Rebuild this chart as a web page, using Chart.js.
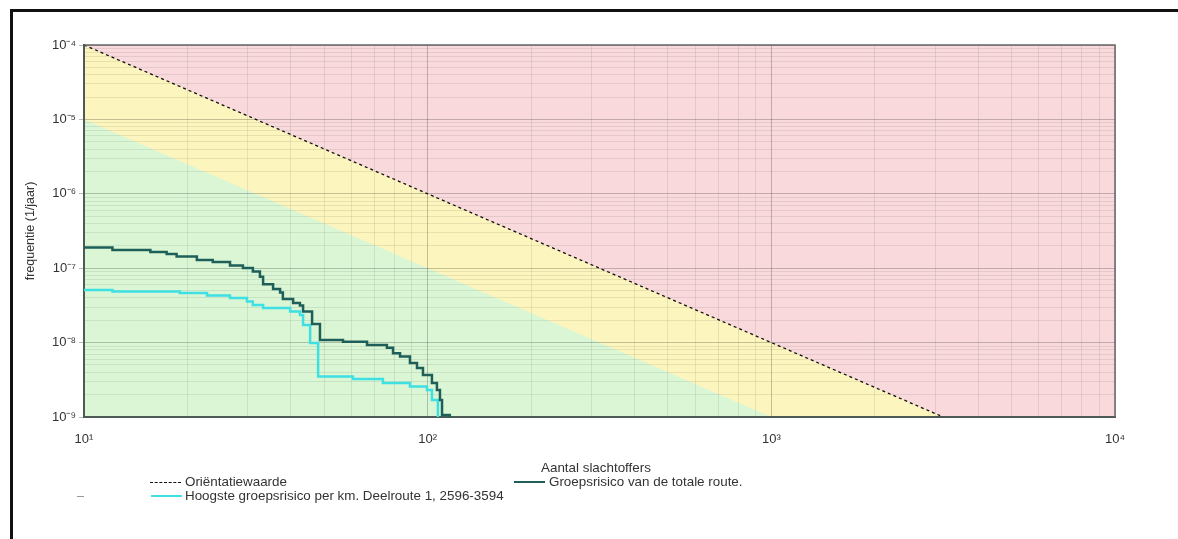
<!DOCTYPE html>
<html lang="nl">
<head>
<meta charset="utf-8">
<title>Groepsrisico</title>
<script src="https://cdn.jsdelivr.net/npm/chart.js@4.4.1/dist/chart.umd.min.js"></script>
<style>
    body { margin: 0; background: #fff; font-family: 'Liberation Sans', Arial, sans-serif; }
    #page { position: relative; width: 1178px; height: 539px; overflow: hidden; }
    #chartBox { position: absolute; left: 0; top: 0; width: 1178px; height: 539px; }
    .frame { position: absolute; background: #111; }
    .lbl { position: absolute; font-size: 13.4px; color: #333; line-height: 16px; white-space: nowrap; }
    .swatch { position: absolute; width: 31px; height: 0; }
</style>
</head>
<body>
<div id="page">
    <div id="chartBox"><canvas id="frChart"></canvas></div>
    <div class="frame" style="left:10px;top:9px;width:3px;height:530px"></div>
    <div class="frame" style="left:10px;top:9px;width:1168px;height:3px"></div>

    <div class="lbl" style="left:541px;top:460px">Aantal slachtoffers</div>

    <div class="swatch" style="left:150px;top:482px;border-top:1px dashed #111"></div>
    <div class="lbl" style="left:185px;top:474px">Oriëntatiewaarde</div>

    <div class="swatch" style="left:514px;top:481px;border-top:2.5px solid #1f5f5a"></div>
    <div class="lbl" style="left:549px;top:474px">Groepsrisico van de totale route.</div>

    <div class="swatch" style="left:77px;top:496px;width:7px;border-top:1px solid #999"></div>
    <div class="swatch" style="left:151px;top:495px;border-top:2.5px solid #3ee0e4"></div>
    <div class="lbl" style="left:185px;top:488px">Hoogste groepsrisico per km. Deelroute 1, 2596-3594</div>
</div>

<script>
// axes
const xDecades = [10, 100, 1000, 10000];
const xTickLabels = ['10¹', '10²', '10³', '10⁴'];
const yDecades = [1e-9, 1e-8, 1e-7, 1e-6, 1e-5, 1e-4];
const yTickLabels = ['10⁻⁹', '10⁻⁸', '10⁻⁷', '10⁻⁶', '10⁻⁵', '10⁻⁴'];
const minorSteps = [2, 3, 4, 5, 6, 7, 8, 9];

// Oriëntatiewaarde
const normN = [10, 100, 1000, 3162];
const normF = [1e-4, 1e-6, 1e-8, 1e-9];
// zone boundaries (red / yellow / green)
const upperN = [10, 3162, 10000];
const upperF = [1e-4, 1e-9, 1e-9];
const lowerN = [10, 100, 1000, 10000];
const lowerF = [1e-5, 1e-7, 1e-9, 1e-9];
const topN = [10, 10000];
const topF = [1e-4, 1e-4];

// Groepsrisico van de totale route
const totalN = [10, 12.1, 15.6, 17.4, 18.6, 21.3, 23.7, 26.6, 29.0, 31.0, 32.5, 33.2, 35.5, 37.2, 37.9,
    40.6, 42.5, 43.4, 46.1, 48.6, 56.7, 66.6, 76.1, 79.3, 83.1, 88.8, 93.1, 96.9, 102.9, 106.4,
    108.6, 110.1, 114.6, 116];
const totalF = [1.90e-7, 1.76e-7, 1.65e-7, 1.55e-7, 1.44e-7, 1.29e-7, 1.21e-7, 1.09e-7, 1.01e-7, 9.0e-8,
    7.7e-8, 6.1e-8, 5.25e-8, 4.7e-8, 3.85e-8, 3.4e-8, 3.15e-8, 2.62e-8, 1.78e-8, 1.08e-8, 1.03e-8,
    9.3e-9, 8.5e-9, 7.2e-9, 6.5e-9, 5.3e-9, 4.55e-9, 3.67e-9, 2.87e-9, 2.31e-9, 1.69e-9, 1.06e-9,
    1.06e-9, 5e-10];

// Hoogste groepsrisico per km
const peakN = [10, 12.1, 19.0, 22.8, 26.6, 29.8, 31.0, 33.2, 39.8, 42.5, 43.4, 45.5, 48.0, 60.6, 74.1,
    88.8, 99.5, 102.9, 107.1];
const peakF = [5.09e-8, 4.86e-8, 4.65e-8, 4.3e-8, 3.97e-8, 3.56e-8, 3.2e-8, 2.92e-8, 2.62e-8, 2.35e-8,
    1.73e-8, 9.9e-9, 3.5e-9, 3.24e-9, 2.87e-9, 2.57e-9, 2.31e-9, 1.69e-9, 5e-10];

const tealDark = '#1f5f5a';
const cyan = '#3ee0e4';
const noLine = 'rgba(0,0,0,0)';

const pts = (xs, ys) => xs.map((x, i) => ({ x: x, y: ys[i] }));

const isDecade = v => Math.abs(Math.log10(v) - Math.round(Math.log10(v))) < 1e-6;

function gridTicks(decades) {
    const out = [];
    decades.forEach((d, i) => {
        out.push({ value: d });
        if (i < decades.length - 1) minorSteps.forEach(m => out.push({ value: d * m }));
    });
    return out;
}

function decadeLabel(decades, labels) {
    return function (value) {
        const idx = decades.findIndex(d => Math.abs(d - value) / d < 1e-6);
        return idx >= 0 ? labels[idx] : '';
    };
}

// top and right edge of the plot box
const plotFrame = {
    id: 'plotFrame',
    afterDraw(chart) {
        const a = chart.chartArea;
        const c = chart.ctx;
        c.save();
        c.strokeStyle = '#666';
        c.lineWidth = 1.5;
        c.beginPath();
        c.moveTo(a.left, a.top);
        c.lineTo(a.right, a.top);
        c.lineTo(a.right, a.bottom);
        c.stroke();
        c.restore();
    }
};

const fontFamily = "'Liberation Sans', Arial, sans-serif";
const tickFont = { family: fontFamily, size: 13 };

new Chart(document.getElementById('frChart').getContext('2d'), {
    type: 'line',
    data: {
        datasets: [
            { label: 'Oriëntatiewaarde', data: pts(normN, normF), borderColor: '#111', borderWidth: 1.3,
              borderDash: [3, 3], pointRadius: 0, fill: false, order: 0 },
            { label: 'Groepsrisico van de totale route.', data: pts(totalN, totalF), borderColor: tealDark,
              borderWidth: 2.5, stepped: 'before', pointRadius: 0, fill: false, order: 1 },
            { label: 'Hoogste groepsrisico per km. Deelroute 1, 2596-3594', data: pts(peakN, peakF),
              borderColor: cyan, borderWidth: 2.5, stepped: 'before', pointRadius: 0, fill: false, order: 2 },
            { label: 'groen', data: pts(lowerN, lowerF), borderColor: noLine, borderWidth: 0,
              backgroundColor: '#daf6d5', fill: 'start', pointRadius: 0, order: 3 },
            { label: 'geel', data: pts(upperN, upperF), borderColor: noLine, borderWidth: 0,
              backgroundColor: '#fcf5bd', fill: 'start', pointRadius: 0, order: 4 },
            { label: 'rood', data: pts(topN, topF), borderColor: noLine, borderWidth: 0,
              backgroundColor: '#f9d9dc', fill: 'start', pointRadius: 0, order: 5 }
        ]
    },
    options: {
        responsive: true,
        maintainAspectRatio: false,
        animation: false,
        layout: { padding: { top: 45, right: 63, left: 0, bottom: 0 } },
        plugins: {
            legend: { display: false },
            tooltip: { enabled: false },
            filler: { drawTime: 'beforeDraw' }
        },
        scales: {
            x: {
                type: 'logarithmic',
                min: 10,
                max: 10000,
                afterBuildTicks: s => { s.ticks = gridTicks(xDecades); },
                afterFit: s => { s.height = 122; },
                grid: {
                    color: c => isDecade(c.tick.value) ? 'rgba(0,0,0,0.22)' : 'rgba(0,0,0,0.08)',
                    tickLength: 6,
                    tickColor: noLine
                },
                border: { color: '#4d5a55', width: 2 },
                ticks: {
                    autoSkip: false, maxRotation: 0, padding: 9, color: '#333', font: tickFont,
                    callback: decadeLabel(xDecades, xTickLabels)
                }
            },
            y: {
                type: 'logarithmic',
                min: 1e-9,
                max: 1e-4,
                afterBuildTicks: s => { s.ticks = gridTicks(yDecades); },
                afterFit: s => { s.width = 84; },
                grid: {
                    color: c => isDecade(c.tick.value) ? 'rgba(0,0,0,0.22)' : 'rgba(0,0,0,0.08)',
                    tickLength: 5,
                    tickColor: c => isDecade(c.tick.value) ? '#bbb' : noLine
                },
                border: { color: '#4d5a55', width: 2 },
                title: {
                    display: true, text: 'frequentie (1/jaar)', color: '#333',
                    font: { family: fontFamily, size: 12.5 },
                    padding: { top: 23, bottom: 0 }
                },
                ticks: {
                    autoSkip: false, padding: 3, color: '#333', font: tickFont,
                    callback: decadeLabel(yDecades, yTickLabels)
                }
            }
        }
    },
    plugins: [plotFrame]
});
</script>
</body>
</html>
